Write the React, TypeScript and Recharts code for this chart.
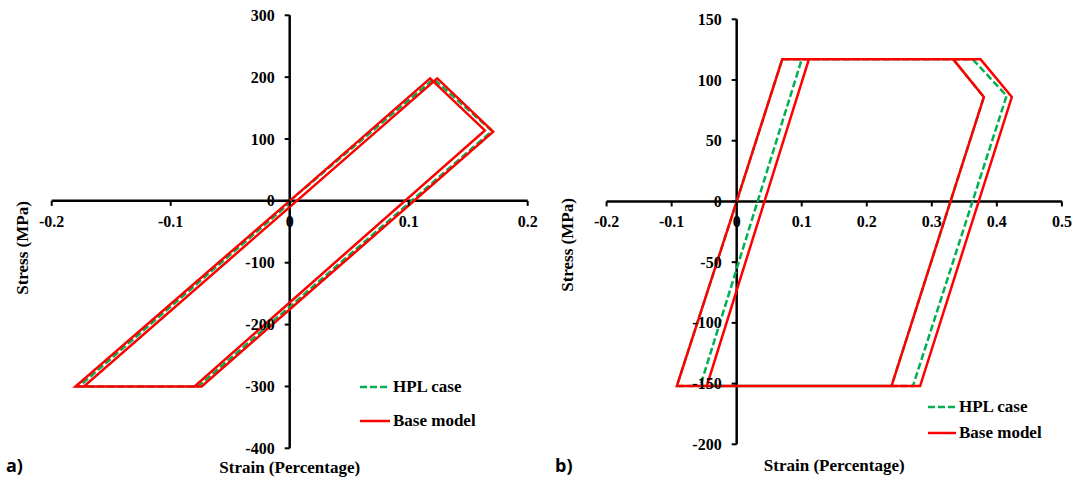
import { LineChart, Line, XAxis, YAxis, ReferenceLine, Legend } from "recharts";

// panel a) loops (strain %, stress MPa)
const hplAStrain = [0, 0.121, 0.17, -0.077, -0.177, 0.002];
const hplAStress = [0, 197, 113, -300, -300, 0];
const baseAStrain = [0, 0.118, 0.164, -0.08, -0.173, 0.124, 0.171, -0.074, -0.18, 0];
const baseAStress = [0, 198, 114, -300, -300, 198, 112, -300, -300, 0];

// panel b) loops
const hplBStrain = [0, 0.07, 0.363, 0.415, 0.271, -0.056, 0.1, 0.333, 0.38, 0.238, -0.092, 0];
const hplBStress = [0, 117, 117, 87, -152, -152, 117, 117, 86, -152, -152, 0];
const baseBStrain = [0, 0.07, 0.375, 0.423, 0.282, -0.046, 0.111, 0.333, 0.38, 0.238, -0.092, 0];
const baseBStress = [0, 117, 117, 86, -152, -152, 117, 117, 86, -152, -152, 0];

const xTicksA = [-0.2, -0.1, 0, 0.1, 0.2];
const yTicksA = [-400, -300, -200, -100, 0, 100, 200, 300];
const xTicksB = [-0.2, -0.1, 0, 0.1, 0.2, 0.3, 0.4, 0.5];
const yTicksB = [-200, -150, -100, -50, 0, 50, 100, 150];

const HPL_NAME = "HPL case";
const BASE_NAME = "Base model";

const toPoints = (xs: number[], ys: number[]) => xs.map((x, i) => ({ x, y: ys[i] }));

const serif = "'Liberation Serif', 'Times New Roman', serif";
const GREEN = "#00B050";
const RED = "#FF0000";

// axes are drawn through the origin, so the real axis boxes are kept 1px thin
const AXIS_SIZE = 1;

interface Series {
  name: string;
  data: { x: number; y: number }[];
  color: string;
  dash?: string;
}

interface PanelProps {
  left: number;
  width: number;
  height: number;
  plot: { top: number; right: number; bottom: number; left: number };
  xDomain: [number, number];
  yDomain: [number, number];
  xTicks: number[];
  yTicks: number[];
  series: Series[];
  legend: { left: number; top: number; rowH: number; lineW: number };
  letter: string;
  letterLeft: number;
  yTitle: { x: number; y: number };
  xTitleY: number;
}

const tickText = {
  fontFamily: serif,
  fontWeight: 700,
  fontSize: 16,
  fill: "#000",
};

const Panel = (p: PanelProps) => {
  // p.plot holds the plot box edges inside this panel
  const margin = {
    top: p.plot.top,
    right: p.width - p.plot.right,
    bottom: p.height - p.plot.bottom - AXIS_SIZE,
    left: p.plot.left - AXIS_SIZE,
  };
  const plotW = p.plot.right - p.plot.left;
  const plotH = p.plot.bottom - p.plot.top;
  const zeroX = p.plot.left + (plotW * (0 - p.xDomain[0])) / (p.xDomain[1] - p.xDomain[0]);
  const zeroY = p.plot.top + (plotH * p.yDomain[1]) / (p.yDomain[1] - p.yDomain[0]);
  const plotCx = p.plot.left + plotW / 2;

  const renderXTick = (props: any) => {
    const { x, payload } = props;
    return (
      <g>
        <line x1={x} x2={x} y1={zeroY} y2={zeroY + 5} stroke="#000" strokeWidth={2} />
        <text x={x} y={zeroY + 26} textAnchor="middle" {...tickText}>
          {String(payload.value)}
        </text>
      </g>
    );
  };

  const renderYTick = (props: any) => {
    const { y, payload } = props;
    return (
      <g>
        <line x1={zeroX - 5} x2={zeroX} y1={y} y2={y} stroke="#000" strokeWidth={2} />
        <text x={zeroX - 15} y={y + 5.5} textAnchor="end" {...tickText}>
          {String(payload.value)}
        </text>
      </g>
    );
  };

  const renderLegend = () => (
    <div style={{ fontFamily: serif, fontWeight: 700, fontSize: 17, color: "#000" }}>
      {p.series.map((s) => (
        <div
          key={s.name}
          style={{ display: "flex", alignItems: "center", height: p.legend.rowH, whiteSpace: "nowrap" }}
        >
          <svg width={p.legend.lineW} height={6} style={{ display: "block" }}>
            <line
              x1={0}
              x2={p.legend.lineW}
              y1={3}
              y2={3}
              stroke={s.color}
              strokeWidth={2.5}
              strokeDasharray={s.dash}
            />
          </svg>
          <span style={{ marginLeft: 3, lineHeight: 1 }}>{s.name}</span>
        </div>
      ))}
    </div>
  );

  return (
    <div style={{ position: "absolute", left: p.left, top: 0, width: p.width, height: p.height }}>
      <LineChart width={p.width} height={p.height} margin={margin}>
        <XAxis
          type="number"
          dataKey="x"
          domain={p.xDomain}
          ticks={p.xTicks}
          interval={0}
          allowDataOverflow
          height={AXIS_SIZE}
          axisLine={false}
          tickLine={false}
          tick={renderXTick}
        />
        <YAxis
          type="number"
          dataKey="y"
          domain={p.yDomain}
          ticks={p.yTicks}
          interval={0}
          allowDataOverflow
          width={AXIS_SIZE}
          axisLine={false}
          tickLine={false}
          tick={renderYTick}
        />
        <ReferenceLine x={0} stroke="#000" strokeWidth={2.5} />
        <ReferenceLine y={0} stroke="#000" strokeWidth={2.5} />
        {p.series.map((s) => (
          <Line
            key={s.name}
            name={s.name}
            data={s.data}
            dataKey="y"
            type="linear"
            stroke={s.color}
            strokeWidth={2.5}
            strokeDasharray={s.dash}
            dot={false}
            activeDot={false}
            isAnimationActive={false}
          />
        ))}
        <Legend
          layout="vertical"
          align="center"
          verticalAlign="middle"
          wrapperStyle={{ left: p.legend.left, top: p.legend.top, width: "auto" }}
          content={renderLegend}
        />
      </LineChart>
      <div
        style={{
          position: "absolute",
          left: p.yTitle.x,
          top: p.yTitle.y,
          transform: "translate(-50%, -50%) rotate(-90deg)",
          fontFamily: serif,
          fontWeight: 700,
          fontSize: 17,
          whiteSpace: "nowrap",
          lineHeight: 1,
        }}
      >
        Stress (MPa)
      </div>
      <div
        style={{
          position: "absolute",
          left: plotCx,
          top: p.xTitleY,
          transform: "translate(-50%, -50%)",
          fontFamily: serif,
          fontWeight: 700,
          fontSize: 17,
          whiteSpace: "nowrap",
          lineHeight: 1,
        }}
      >
        Strain (Percentage)
      </div>
      <div
        style={{
          position: "absolute",
          left: p.letterLeft,
          top: 465,
          transform: "translateY(-50%)",
          fontFamily: "'Open Sans', 'Liberation Sans', sans-serif",
          fontWeight: 700,
          fontSize: 18,
          lineHeight: 1,
        }}
      >
        {p.letter}
      </div>
    </div>
  );
};

export default function App() {
  return (
    <div
      style={{
        position: "absolute",
        left: 0,
        top: 0,
        width: 1075,
        height: 479,
        background: "#fff",
        overflow: "hidden",
      }}
    >
      <Panel
        left={0}
        width={540}
        height={479}
        plot={{ top: 15.3, right: 527.7, bottom: 448.3, left: 51.7 }}
        xDomain={[-0.2, 0.2]}
        yDomain={[-400, 300]}
        xTicks={xTicksA}
        yTicks={yTicksA}
        series={[
          { name: HPL_NAME, data: toPoints(hplAStrain, hplAStress), color: GREEN, dash: "7 3" },
          { name: BASE_NAME, data: toPoints(baseAStrain, baseAStress), color: RED },
        ]}
        legend={{ left: 360, top: 369.7, rowH: 34, lineW: 30 }}
        letter="a)"
        letterLeft={6}
        yTitle={{ x: 21.7, y: 248 }}
        xTitleY={467}
      />
      <Panel
        left={540}
        width={535}
        height={479}
        plot={{ top: 19.3, right: 521.9, bottom: 444.3, left: 66.6 }}
        xDomain={[-0.2, 0.5]}
        yDomain={[-200, 150]}
        xTicks={xTicksB}
        yTicks={yTicksB}
        series={[
          { name: HPL_NAME, data: toPoints(hplBStrain, hplBStress), color: GREEN, dash: "7 3" },
          { name: BASE_NAME, data: toPoints(baseBStrain, baseBStress), color: RED },
        ]}
        legend={{ left: 388, top: 393.7, rowH: 26, lineW: 28 }}
        letter="b)"
        letterLeft={15}
        yTitle={{ x: 26.7, y: 245 }}
        xTitleY={465}
      />
    </div>
  );
}
